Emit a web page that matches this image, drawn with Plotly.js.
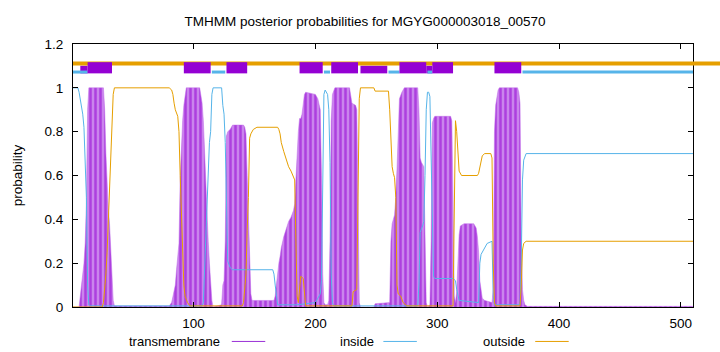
<!DOCTYPE html>
<html>
<head>
<meta charset="utf-8">
<script src="https://cdn.plot.ly/plotly-3.0.1.min.js"></script>
<style>
  html, body { margin: 0; padding: 0; background: #fff; }
  #chart { width: 720px; height: 352px; }
</style>
</head>
<body>
<div id="chart"></div>
<script>
// ---- Data ----
// Transmembrane posterior probability (residue position, probability)
const tmPos = [1, 6, 7, 8, 9, 10, 11, 12, 13, 14, 26, 27, 28, 29, 30, 31, 32, 33, 34, 35,
  80, 82, 84, 85, 86, 87, 88, 89, 90, 91, 92, 93, 94, 105, 106, 107, 108, 109, 110, 111, 112, 113, 114, 115, 116,
  123, 124, 125, 126, 127, 128, 130, 132, 141, 142, 143, 144, 145, 146, 147, 148,
  166, 167, 168, 169, 170, 171, 172, 174, 176, 178, 180, 182, 183, 184, 185, 186, 187, 188, 189, 190, 191, 192,
  200, 202, 203, 204, 205, 206, 207, 208, 210, 211, 212, 213, 214, 216, 228, 229, 230, 233, 234, 235, 236, 237,
  248, 249, 261, 262, 263, 265, 266, 267, 268, 269, 271, 273, 284, 285, 286, 287, 289, 290, 291, 292,
  294, 295, 296, 297, 298, 311, 312, 313, 314, 315, 316, 317, 318, 319, 322, 330, 332, 333, 334, 335, 336, 337,
  339, 345, 346, 347, 348, 349, 350, 351, 366, 367, 368, 369, 370, 371, 372, 374, 510];
const tmProb = [0.0, 0.0, 0.05, 0.1, 0.13, 0.2, 0.29, 0.48, 0.9, 1.0, 1.0, 0.9, 0.7, 0.55, 0.45, 0.38, 0.25, 0.15, 0.03, 0.005,
  0.005, 0.02, 0.08, 0.1, 0.17, 0.25, 0.29, 0.58, 0.75, 0.85, 0.92, 0.96, 1.0, 1.0, 0.97, 0.93, 0.85, 0.7, 0.55, 0.45, 0.3, 0.2, 0.1, 0.03, 0.0,
  0.01, 0.1, 0.12, 0.3, 0.78, 0.8, 0.81, 0.83, 0.83, 0.82, 0.79, 0.6, 0.4, 0.15, 0.06, 0.03,
  0.03, 0.05, 0.1, 0.17, 0.2, 0.23, 0.27, 0.32, 0.36, 0.39, 0.41, 0.44, 0.47, 0.6, 0.75, 0.8, 0.86, 0.86, 0.88, 0.93, 0.97, 0.98,
  0.97, 0.95, 0.93, 0.9, 0.6, 0.15, 0.02, 0.01, 0.01, 0.03, 0.3, 0.85, 0.97, 1.0, 1.0, 0.96, 0.93, 0.92, 0.9, 0.5, 0.02, 0.0,
  0.0, 0.015, 0.02, 0.3, 0.38, 0.42, 0.5, 0.63, 0.85, 0.95, 0.98, 1.0, 1.0, 0.9, 0.68, 0.66, 0.64, 0.35, 0.02, 0.0,
  0.01, 0.3, 0.84, 0.86, 0.87, 0.87, 0.85, 0.5, 0.05, 0.02, 0.07, 0.2, 0.33, 0.37, 0.38, 0.38, 0.36, 0.32, 0.25, 0.12, 0.07, 0.04,
  0.03, 0.02, 0.08, 0.8, 0.92, 0.96, 0.99, 1.0, 1.0, 0.98, 0.93, 0.3, 0.08, 0.03, 0.01, 0.003, 0.003];

// Inside posterior probability
const inPos = [1, 5, 6, 7, 8, 9, 10, 11, 12, 13, 14, 15, 107, 108, 110, 111, 112, 113, 114, 115, 116, 123, 124, 125, 126, 127, 128, 130, 132,
  165, 166, 167, 168, 169, 185, 195, 200, 202, 204, 205, 206, 207, 208, 210, 211, 212, 213, 214, 215,
  284, 285, 286, 288, 289, 290, 291, 292, 293, 294, 295, 296, 297, 298, 313, 315, 316, 318, 334, 335, 336, 338, 341, 345, 346, 347,
  368, 369, 370, 371, 373, 510];
const inProb = [1.0, 1.0, 0.98, 0.95, 0.91, 0.88, 0.82, 0.68, 0.5, 0.1, 0.01, 0.005, 0.005, 0.02, 0.3, 0.45, 0.6, 0.75, 0.8, 0.97, 1.0, 1.0, 0.92, 0.88, 0.75, 0.45, 0.21, 0.18, 0.17,
  0.17, 0.15, 0.1, 0.04, 0.01, 0.01, 0.015, 0.02, 0.04, 0.06, 0.12, 0.6, 0.97, 0.99, 0.97, 0.9, 0.66, 0.15, 0.02, 0.005,
  0.005, 0.1, 0.34, 0.37, 0.39, 0.6, 0.9, 0.98, 0.98, 0.96, 0.64, 0.27, 0.14, 0.13, 0.13, 0.12, 0.08, 0.03, 0.02, 0.2, 0.24, 0.26, 0.29, 0.3, 0.05, 0.01,
  0.01, 0.2, 0.58, 0.67, 0.7, 0.7];

// Outside posterior probability
const outPos = [1, 25, 26, 27, 28, 29, 30, 31, 32, 33, 34, 35, 80, 82, 83, 84, 85, 87, 88, 89, 90, 91, 92, 93, 95, 97,
  140, 141, 143, 144, 145, 146, 147, 149, 152, 169, 170, 171, 172, 174, 176, 178, 180, 182, 183, 184, 185, 186, 187, 188, 190, 191, 192,
  230, 231, 234, 235, 236, 237, 248, 249, 260, 261, 262, 263, 264, 265, 266, 267, 268, 270, 272, 275,
  313, 314, 315, 316, 317, 318, 320, 333, 334, 335, 336, 337, 339, 344, 345, 346, 347, 348, 368, 369, 370, 371, 373, 510];
const outProb = [0.0, 0.0, 0.02, 0.08, 0.15, 0.25, 0.4, 0.55, 0.7, 0.85, 0.97, 1.0, 1.0, 0.99, 0.97, 0.93, 0.9, 0.87, 0.8, 0.6, 0.4, 0.2, 0.1, 0.05, 0.02, 0.005,
  0.005, 0.02, 0.15, 0.35, 0.5, 0.77, 0.79, 0.81, 0.82, 0.82, 0.81, 0.79, 0.75, 0.71, 0.67, 0.64, 0.62, 0.59, 0.58, 0.3, 0.05, 0.02, 0.08, 0.14, 0.13, 0.04, 0.005,
  0.005, 0.07, 0.08, 0.45, 0.95, 1.0, 1.0, 0.985, 0.985, 0.9, 0.72, 0.64, 0.61, 0.59, 0.5, 0.1, 0.06, 0.05, 0.02, 0.005,
  0.005, 0.6, 0.85, 0.8, 0.7, 0.62, 0.6, 0.6, 0.61, 0.64, 0.67, 0.69, 0.7, 0.7, 0.68, 0.2, 0.02, 0.005, 0.005, 0.1, 0.26, 0.29, 0.3, 0.3];

// Predicted topology strip (residue ranges)
const tmBoxStart = [13, 92, 127, 187, 213, 269, 296, 347];
const tmBoxEnd   = [33, 114, 144, 206, 235, 291, 313, 369];
const tmLowStart = [7, 237, 291];
const tmLowEnd   = [13, 259, 296];
const inSegStart = [1, 115, 207, 260, 292, 370];
const inSegEnd   = [13, 126, 212, 269, 296, 510];
const outSegStart = [1];
const outSegEnd   = [510];
const seqLength = 510;

// Tick values / labels
const xTicks = [100, 200, 300, 400, 500];
const yTicks = [0, 0.2, 0.4, 0.6, 0.8, 1, 1.2];

// Legend entries
const legendNames = ['transmembrane', 'inside', 'outside'];

// ---- Styling ----
const cTM = '#9400d3', cIn = '#56b4e9', cOut = '#e69f00';
const font = 'Liberation Sans, Arial, Helvetica, sans-serif';

const traces = [
  { x: tmPos, y: tmProb, type: 'scatter', mode: 'lines', fill: 'tozeroy',
    line: { color: '#bf6ae8', width: 0.5 },
    fillcolor: '#bc60e6',
    fillpattern: { shape: '|', size: 5, solidity: 0.5, fgcolor: '#ad3fdf', bgcolor: '#ca84ed' },
    hoverinfo: 'skip', showlegend: false },
  { x: inPos, y: inProb, type: 'scatter', mode: 'lines',
    line: { color: cIn, width: 1 }, hoverinfo: 'skip', showlegend: false },
  { x: outPos, y: outProb, type: 'scatter', mode: 'lines',
    line: { color: cOut, width: 1 }, hoverinfo: 'skip', showlegend: false }
];

const yOut = 1.111, yIn = 1.072;
const shapes = [];
// lower TM boxes (under the outside line)
tmLowStart.forEach((s, i) => shapes.push({ type: 'rect', xref: 'x', yref: 'y',
  x0: s, x1: tmLowEnd[i], y0: 1.066, y1: 1.101, fillcolor: cTM, line: { width: 0 } }));
// outside line, extends past the plot as in the reference
outSegStart.forEach((s, i) => shapes.push({ type: 'line', xref: 'paper', yref: 'y',
  x0: (s - 1) / (seqLength - 1), x1: (outSegEnd[i] - 1) / (seqLength - 1) + 0.045, y0: yOut, y1: yOut,
  line: { color: cOut, width: 4 } }));
inSegStart.forEach((s, i) => shapes.push({ type: 'line', xref: 'x', yref: 'y',
  x0: s, x1: inSegEnd[i], y0: yIn, y1: yIn, line: { color: cIn, width: 3 } }));
tmBoxStart.forEach((s, i) => shapes.push({ type: 'rect', xref: 'x', yref: 'y',
  x0: s, x1: tmBoxEnd[i], y0: 1.066, y1: 1.117, fillcolor: cTM, line: { width: 0 } }));

// manual legend (text followed by sample line, as in the reference)
const legY = -0.131;
const legTextRight = [0.2404, 0.4889, 0.7318];
const legLineX0 = [0.2561, 0.5006, 0.7455];
const legColors = ['#9a30d6', cIn, cOut];
const annotations = [];
legendNames.forEach((n, i) => {
  annotations.push({ text: n, xref: 'paper', yref: 'paper', x: legTextRight[i], y: legY,
    xanchor: 'right', yanchor: 'middle', showarrow: false, font: { family: font, size: 13, color: '#000' } });
  shapes.push({ type: 'line', xref: 'paper', yref: 'paper', x0: legLineX0[i], x1: legLineX0[i] + 0.054,
    y0: legY, y1: legY, line: { color: legColors[i], width: 1 } });
});

const layout = {
  width: 720, height: 352,
  margin: { l: 73, r: 27, t: 44, b: 45 },
  paper_bgcolor: '#fff', plot_bgcolor: '#fff',
  font: { family: font, size: 13, color: '#000' },
  title: { text: 'TMHMM posterior probabilities for MGYG000003018_00570',
    font: { family: font, size: 13.5, color: '#000' },
    xref: 'container', x: 0.507, xanchor: 'center', yref: 'container', y: 0.94, yanchor: 'middle' },
  xaxis: { range: [1, seqLength], tickvals: xTicks, ticks: 'inside', ticklen: 5, tickcolor: '#000',
    showline: true, linecolor: '#000', linewidth: 1, mirror: 'ticks', showgrid: false, zeroline: false,
    tickfont: { family: font, size: 13.5 }, ticklabelstandoff: 4 },
  yaxis: { range: [0, 1.2], tickvals: yTicks, ticks: 'inside', ticklen: 5, tickcolor: '#000',
    showline: true, linecolor: '#000', linewidth: 1, mirror: 'ticks', showgrid: false, zeroline: false,
    tickfont: { family: font, size: 13.5 }, ticklabelstandoff: 6,
    title: { text: 'probability', font: { family: font, size: 13.5 }, standoff: 18 } },
  shapes: shapes,
  annotations: annotations,
  showlegend: false
};

Plotly.newPlot('chart', traces, layout, { staticPlot: true, displayModeBar: false });
</script>
</body>
</html>
